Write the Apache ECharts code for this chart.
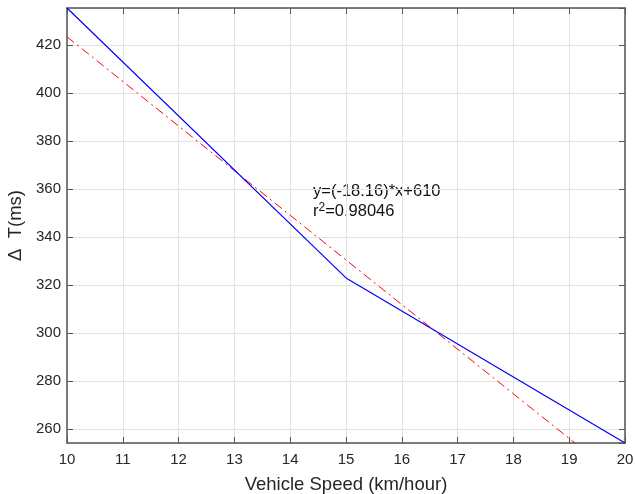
<!DOCTYPE html>
<html>
<head>
<meta charset="utf-8">
<script src="https://cdn.jsdelivr.net/npm/echarts@6/dist/echarts.min.js"></script>
<style>
  html, body { margin: 0; padding: 0; background: #fff; }
  #chart { width: 635px; height: 494px; }
</style>
</head>
<body>
<div id="chart"></div>
<script>
// measured data (blue) and linear fit (red dash-dot)
const speeds = [10, 15, 20];
const deltaT = [435.5, 323, 254.2];
const fitX = [10, 20];
const fitY = [423.5, 237.5];
const xTicks = [10, 11, 12, 13, 14, 15, 16, 17, 18, 19, 20];

const yMin = 254.2;
const yMax = 435.5;

const chart = echarts.init(document.getElementById("chart"));
const axisColor = "#555";
const font = "Liberation Sans, Arial, sans-serif";

const option = {
  animation: false,
  grid: {
    left: 67, right: 10, top: 8, bottom: 51,
    containLabel: false,
    outerBoundsMode: "none",
  },
  xAxis: [
    {
      type: "value",
      min: xTicks[0],
      max: xTicks[xTicks.length - 1],
      interval: 1,
      name: "Vehicle Speed (km/hour)",
      nameLocation: "middle",
      nameGap: 32,
      nameTextStyle: { color: "#262626", fontSize: 18.5, fontFamily: font },
      axisLine: { lineStyle: { color: axisColor, width: 1.5 } },
      axisTick: { inside: true, length: 6, lineStyle: { color: axisColor } },
      axisLabel: { color: "#262626", fontSize: 15, fontFamily: font, margin: 9 },
      splitLine: { show: true, lineStyle: { color: "#e3e3e3", width: 1 } },
    },
    {
      type: "value",
      position: "top",
      min: xTicks[0],
      max: xTicks[xTicks.length - 1],
      interval: 1,
      axisLine: { lineStyle: { color: axisColor, width: 1.5 } },
      axisTick: { inside: true, length: 6, lineStyle: { color: axisColor } },
      axisLabel: { show: false },
      splitLine: { show: false },
    },
  ],
  yAxis: [
    {
      type: "value",
      min: yMin,
      max: yMax,
      splitNumber: 9,
      name: "\u0394  T(ms)",
      nameLocation: "middle",
      nameGap: 41,
      nameRotate: 90,
      nameTextStyle: { color: "#262626", fontSize: 18.5, fontFamily: font },
      axisLine: { show: true, lineStyle: { color: axisColor, width: 1.5 } },
      axisTick: { show: true, inside: true, length: 6, lineStyle: { color: axisColor } },
      axisLabel: {
        color: "#262626", fontSize: 15, fontFamily: font, margin: 6,
        showMinLabel: false, showMaxLabel: false,
      },
      splitLine: { show: true, lineStyle: { color: "#e3e3e3", width: 1 } },
    },
    {
      type: "value",
      position: "right",
      min: yMin,
      max: yMax,
      splitNumber: 9,
      axisLine: { show: true, lineStyle: { color: axisColor, width: 1.5 } },
      axisTick: { show: true, inside: true, length: 6, lineStyle: { color: axisColor } },
      axisLabel: { show: false },
      splitLine: { show: false },
    },
  ],
  series: [
    {
      type: "line",
      data: speeds.map((x, i) => [x, deltaT[i]]),
      symbol: "none",
      lineStyle: { color: "#0000ff", width: 1.2 },
      clip: true,
      z: 3,
    },
    {
      type: "line",
      data: fitX.map((x, i) => [x, fitY[i]]),
      symbol: "none",
      lineStyle: { color: "#ff0000", width: 1, type: [9, 4, 2, 4] },
      clip: true,
      z: 2,
    },
  ],
  graphic: [
    {
      type: "text",
      left: 313,
      top: 183,
      style: {
        text: "y=(-18.16)*x+610",
        fill: "#111",
        font: "16.5px " + font,
      },
    },
    {
      type: "text",
      left: 313,
      top: 202,
      style: {
        text: "r{sup|2}=0.98046",
        fill: "#111",
        font: "16.5px " + font,
        rich: {
          sup: { fontSize: 12, verticalAlign: "top", padding: [0, 0, 7, 0], fill: "#111" },
        },
      },
    },
  ],
};

chart.setOption(option);
</script>
</body>
</html>
